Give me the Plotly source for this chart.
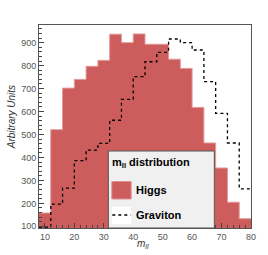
import plotly.graph_objects as go

bin_edges = [8, 12, 16, 20, 24, 28, 32, 36, 40, 44, 48, 52, 56, 60, 64, 68, 72, 76, 80]
higgs = [158, 521, 702, 740, 797, 823, 937, 900, 938, 893, 893, 828, 788, 618, 463, 354, 205, 133]
graviton = [96, 197, 266, 386, 432, 461, 562, 653, 752, 817, 858, 916, 900, 868, 730, 592, 463, 263]
legend_title = "m<sub>ll</sub> distribution"
series_names = ["Higgs", "Graviton"]

W, H = 268, 255
ML, MR, MT, MB = 39, 15, 25, 27
PW, PH = W - ML - MR, H - MT - MB


def px(xp):
    return (xp - ML) / PW


def py(yp):
    return (H - MB - yp) / PH


RED = "#cd5c5c"
FONT = "Liberation Sans, Arial"

fig = go.Figure()
fig.add_trace(go.Scatter(
    x=bin_edges, y=higgs + [higgs[-1]], mode="lines", name=series_names[0],
    line=dict(shape="hv", color="#e49a9a", width=1),
    fill="tozeroy", fillcolor=RED,
    showlegend=False, hoverinfo="skip",
))
fig.add_trace(go.Scatter(
    x=bin_edges, y=graviton + [graviton[-1]], mode="lines", name=series_names[1],
    line=dict(shape="hv", color="black", width=1.3, dash="dot"),
    showlegend=False, hoverinfo="skip",
))

tickfont = dict(family=FONT, size=9, color="#555555")

shapes = [
    dict(type="rect", xref="paper", yref="paper", x0=px(109), x1=px(216), y0=py(228), y1=py(151),
         fillcolor="#f0f0f0", line=dict(color="#555555", width=1), layer="above"),
    dict(type="rect", xref="paper", yref="paper", x0=px(112.5), x1=px(132), y0=py(199), y1=py(181.5),
         fillcolor=RED, line=dict(color="#e09090", width=1), layer="above"),
    dict(type="rect", xref="paper", yref="paper", x0=px(112.5), x1=px(132), y0=py(224), y1=py(206.5),
         fillcolor="white", line=dict(width=0), layer="above"),
    dict(type="line", xref="paper", yref="paper", x0=px(113), x1=px(131.5), y0=py(215), y1=py(215),
         line=dict(color="black", width=1.3, dash="dot"), layer="above"),
]

annotations = [
    dict(text="<i>m<sub>ll</sub></i>", x=px(144), y=py(244), xref="paper", yref="paper",
         xanchor="center", yanchor="middle", showarrow=False,
         font=dict(family=FONT, size=10, color="#333")),
    dict(text="<i>Arbitrary Units</i>", x=px(11), y=py(117), xref="paper", yref="paper",
         xanchor="center", yanchor="middle", showarrow=False, textangle=-90,
         font=dict(family=FONT, size=10, color="#333")),
    dict(text="<b>" + legend_title + "</b>", x=px(110.5), y=py(163), xref="paper", yref="paper",
         xanchor="left", yanchor="middle", showarrow=False,
         font=dict(family=FONT, size=11, color="black")),
    dict(text="<b>" + series_names[0] + "</b>", x=px(135), y=py(189.5), xref="paper", yref="paper",
         xanchor="left", yanchor="middle", showarrow=False,
         font=dict(family=FONT, size=11, color="black")),
    dict(text="<b>" + series_names[1] + "</b>", x=px(135), y=py(215), xref="paper", yref="paper",
         xanchor="left", yanchor="middle", showarrow=False,
         font=dict(family=FONT, size=11, color="black")),
]

fig.update_layout(
    width=W, height=H,
    margin=dict(l=ML, r=MR, t=MT, b=MB),
    paper_bgcolor="white", plot_bgcolor="white",
    showlegend=False,
    xaxis=dict(
        range=[8, 80], tickvals=[10, 20, 30, 40, 50, 60, 70, 80],
        ticks="inside", ticklen=5, tickcolor="#444", tickfont=tickfont,
        minor=dict(dtick=2, ticks="inside", ticklen=3, tickcolor="#444"),
        showline=True, linecolor="#555", linewidth=1, mirror=True,
        showgrid=False, zeroline=False,
    ),
    yaxis=dict(
        range=[92.6, 977], tickvals=[100, 200, 300, 400, 500, 600, 700, 800, 900],
        ticks="inside", ticklen=5, tickcolor="#444", tickfont=tickfont,
        minor=dict(dtick=20, ticks="inside", ticklen=3, tickcolor="#444"),
        showline=True, linecolor="#555", linewidth=1, mirror=True,
        showgrid=False, zeroline=False,
    ),
    shapes=shapes,
    annotations=annotations,
)

fig.write_html("out.html", config={"displayModeBar": False},
               post_script="document.body.style.margin='0';")
